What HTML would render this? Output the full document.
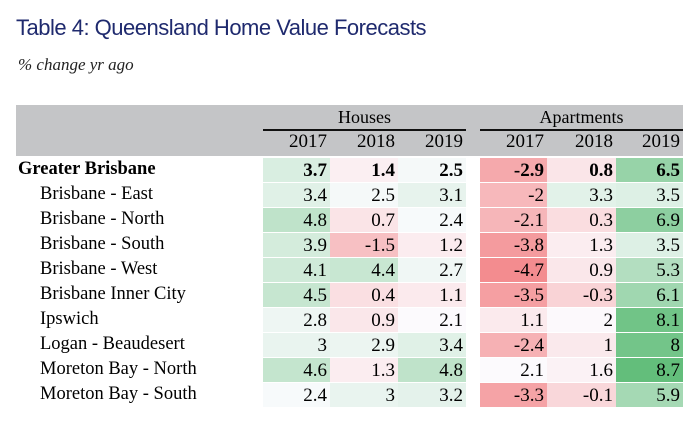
<!DOCTYPE html>
<html><head><meta charset="utf-8"><style>
body{margin:0;width:700px;height:425px;background:#fff;overflow:hidden;position:relative;font-family:"Liberation Serif",serif}
#title{position:absolute;left:16px;top:15px;font:22px "Liberation Sans",sans-serif;color:#1f2a6e;letter-spacing:-0.5px}
#sub{position:absolute;left:18px;top:55px;font:italic 17px "Liberation Serif",serif;color:#222}
.abs{position:absolute}
</style></head><body>
<div id="title">Table 4: Queensland Home Value Forecasts</div>
<div id="sub">% change yr ago</div>
<div class="abs" style="left:16px;top:105px;width:667px;height:51px;background:#c4c5c7"></div>
<div class="abs" style="left:263px;top:107px;width:203px;text-align:center;font-size:18px">Houses</div>
<div class="abs" style="left:263px;top:129px;width:203px;height:2px;background:#111"></div>
<div class="abs" style="left:480px;top:107px;width:203px;text-align:center;font-size:18px">Apartments</div>
<div class="abs" style="left:480px;top:129px;width:203px;height:2px;background:#111"></div>
<div id="tbl"></div>
<script>
const years=["2017","2018","2019","2017","2018","2019"];
const regions=["Greater Brisbane","Brisbane - East","Brisbane - North","Brisbane - South","Brisbane - West","Brisbane Inner City","Ipswich","Logan - Beaudesert","Moreton Bay - North","Moreton Bay - South"];
const houses2017=[3.7,3.4,4.8,3.9,4.1,4.5,2.8,3,4.6,2.4];
const houses2018=[1.4,2.5,0.7,-1.5,4.4,0.4,0.9,2.9,1.3,3];
const houses2019=[2.5,3.1,2.4,1.2,2.7,1.1,2.1,3.4,4.8,3.2];
const apts2017=[-2.9,-2,-2.1,-3.8,-4.7,-3.5,1.1,-2.4,2.1,-3.3];
const apts2018=[0.8,3.3,0.3,1.3,0.9,-0.3,2,1,1.6,-0.1];
const apts2019=[6.5,3.5,6.9,3.5,5.3,6.1,8.1,8,8.7,5.9];
const cols=[houses2017,houses2018,houses2019,apts2017,apts2018,apts2019];
const colX=[263,330,398,480,547,616],colW=[67,68,68,67,69,67];
const all=cols.flat(),mn=Math.min(...all),mx=Math.max(...all),mid=2.2;
function mix(a,b,t){return 'rgb('+a.map((v,i)=>Math.round(v+(b[i]-v)*t)).join(',')+')'}
function color(v){const w=[252,252,255];return v<mid?mix(w,[243,140,143],(mid-v)/(mid-mn)):mix(w,[99,190,123],(v-mid)/(mx-mid));}
const root=document.getElementById('tbl');
years.forEach((y,j)=>{const d=document.createElement('div');d.className='abs';


d.style.cssText=`left:${colX[j]}px;top:131px;width:${colW[j]-3}px;text-align:right;font-size:19px`;d.textContent=y;root.appendChild(d);});
const top0=158,rh=25;
regions.forEach((r,i)=>{const y=top0+i*rh;
const l=document.createElement('div');l.className='abs';


l.style.cssText=`left:${i?40:18}px;top:${y+1}px;font-size:18.5px;${i?'':'font-weight:bold'}`;l.textContent=r;root.appendChild(l);
cols.forEach((c,j)=>{const d=document.createElement('div');d.className='abs';


d.style.cssText=`left:${colX[j]}px;top:${y}px;width:${colW[j]-3}px;padding-right:3px;height:${rh-1}px;line-height:${rh}px;text-align:right;font-size:19px;background:${color(c[i])};${i?'':'font-weight:bold'}`;
d.textContent=c[i];root.appendChild(d);});});
</script>
</body></html>
